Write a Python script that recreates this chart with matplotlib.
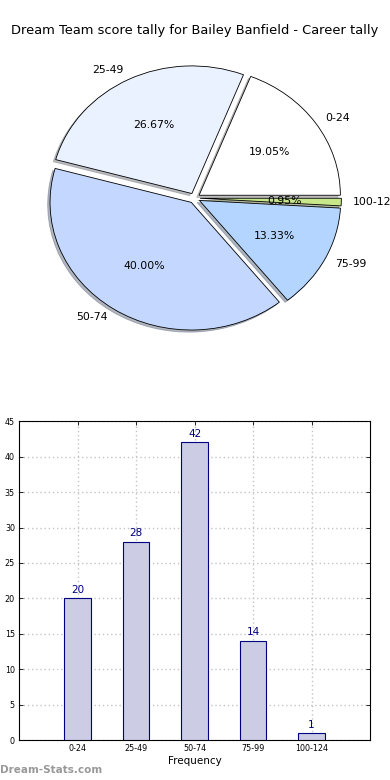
import numpy as np
import matplotlib
matplotlib.use('Agg')
import matplotlib.pyplot as plt

categories = ['0-24', '25-49', '50-74', '75-99', '100-124']
counts = [20, 28, 42, 14, 1]
pie_colors = ['#ffffff', '#eaf1ff', '#c4d8ff', '#b3d5ff', '#c8e68a']
y_ticks = [0, 5, 10, 15, 20, 25, 30, 35, 40, 45]

fig = plt.figure(figsize=(3.9, 7.8), dpi=100)

fig.text(0.5, 0.961, 'Dream Team score tally for Bailey Banfield - Career tally',
         ha='center', va='center', fontsize=9.35)

# pie
ax1 = fig.add_axes([0.1, 0.566, 0.797, 0.36])
wedges, texts, autotexts = ax1.pie(counts, labels=categories, colors=pie_colors,
                                   explode=[0.04] * len(counts), startangle=0,
                                   autopct='%.2f%%', labeldistance=1.08,
                                   shadow={'ox': -0.012, 'oy': -0.012, 'shade': 0.5},
                                   wedgeprops={'edgecolor': 'black', 'linewidth': 0.6},
                                   textprops={'fontsize': 7.8})
ax1.set_aspect('auto')
ax1.set_xlim(-1.1, 1.1)
ax1.set_ylim(-1.1, 1.1)

# bars
ax2 = fig.add_axes([0.049, 0.051, 0.9, 0.409])
x = np.arange(len(categories))
bars = ax2.bar(x, counts, width=0.45, color='#cccce4', edgecolor='#000080', linewidth=0.8, zorder=3)
for xi, v in zip(x, counts):
    ax2.text(xi, v + 0.5, str(v), ha='center', va='bottom', color='#000080', fontsize=7.5, zorder=4)
ax2.set_xlim(-1, 5)
ax2.set_ylim(0, 45)
ax2.set_xticks(x)
ax2.set_xticklabels(categories, fontsize=5.8)
ax2.set_yticks(y_ticks)
ax2.set_yticklabels([str(t) for t in y_ticks], fontsize=5.8)
ax2.tick_params(direction='in', length=3, width=0.6, top=True, right=True, pad=3)
ax2.grid(True, linestyle=(0, (1, 2)), color='#c4c4c4', linewidth=1.0, zorder=0)
ax2.set_xlabel('Frequency', fontsize=7.5, labelpad=2)
for s in ax2.spines.values():
    s.set_linewidth(0.8)

fig.text(0.0, 0.006, 'Dream-Stats.com', ha='left', va='bottom', fontsize=7.5,
         color='#999999', fontweight='bold')

fig.savefig('out.png', dpi=100)
